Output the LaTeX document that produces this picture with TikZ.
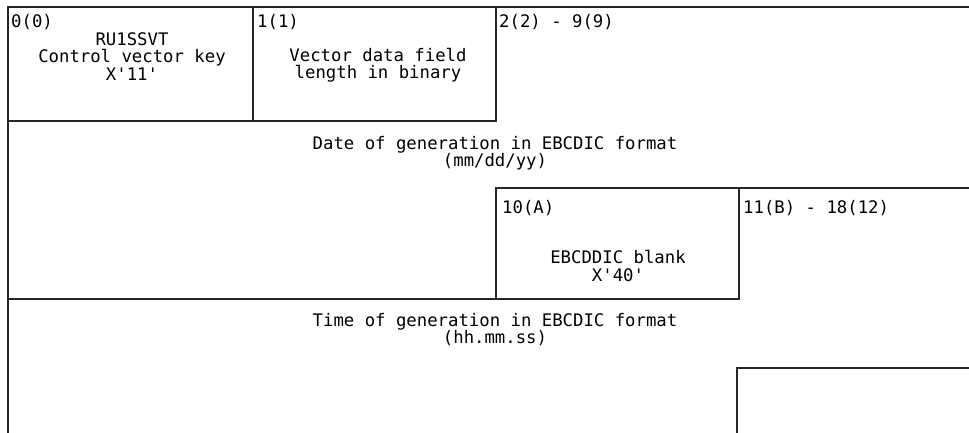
\documentclass[tikz,border=0pt]{standalone}
\usepackage{fontspec}
\usepackage{tikz}
\newfontfamily\fieldfont{DejaVu Sans Mono}
\tikzset{field/.style={font=\fieldfont\fontsize{17.3}{17.3}\selectfont,inner sep=0pt,align=center},offset/.style={field,anchor=west},rule/.style={line width=1.1pt,black!85,line cap=rect},every picture/.style={line join=miter}}

\begin{document}
\begin{tikzpicture}[x=1pt,y=-1pt]
\useasboundingbox (0,0) rectangle (969,433);
% outline of the vector layout
\draw[rule] (969,7)--(8,7)--(8,433);
\draw[rule] (253,7)--(253,121) (496,7)--(496,121) (8,121)--(496,121);
\draw[rule] (969,188)--(496,188)--(496,299) (739,188)--(739,299) (8,299)--(739,299);
\draw[rule] (969,368)--(737,368)--(737,433);
% byte offsets
\foreach \n/\x/\y/\t in {o0/11/22/0(0),o1/257/22/1(1),o2/499/22/2(2) - 9(9),o3/502/208/10(A),o4/743/208/11(B) - 18(12)}{\node[offset] (\n) at (\x,\y) {\t};}
% field contents
\node[field] (key) at (132,56.5) {RU1SSVT\\Control vector key\\X'11'};
\node[field] (len) at (378,65) {Vector data field\\length in binary};
\node[field] (date) at (495,153) {Date of generation in EBCDIC format\\(mm/dd/yy)};
\node[field] (blank) at (618,266) {EBCDDIC blank\\X'40'};
\node[field] (time) at (495,329.5) {Time of generation in EBCDIC format\\(hh.mm.ss)};
\end{tikzpicture}
\end{document}
